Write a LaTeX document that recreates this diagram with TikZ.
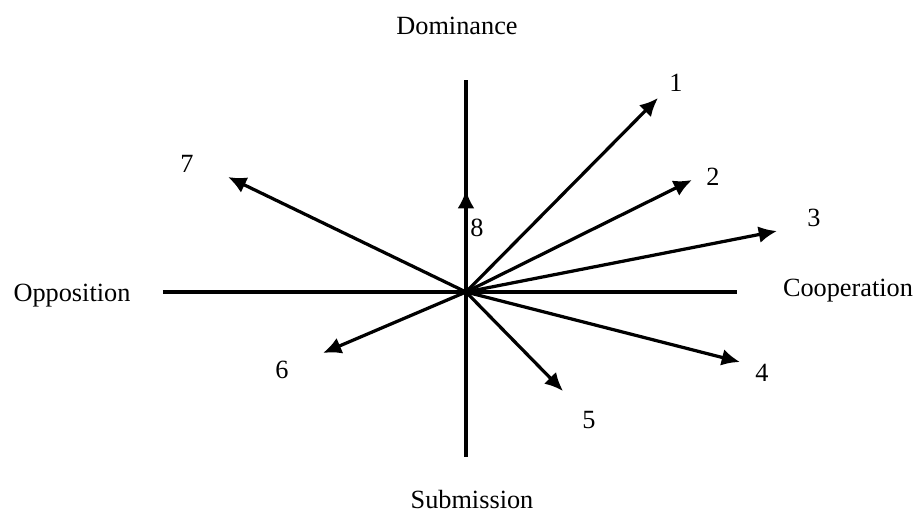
\documentclass[tikz,border=0pt]{standalone}
\usepackage{fontspec}
\setmainfont{Liberation Serif}
\usetikzlibrary{arrows.meta}

\begin{document}
\begin{tikzpicture}[>={Latex[length=13pt,width=12pt]}, line width=2.3pt,
    every node/.style={font=\fontsize{18.7}{22}\selectfont, inner sep=0pt}]
    \useasboundingbox (-11.65,-5.65) rectangle (11.4,7.3);
    \coordinate (o) at (0,0);
    \coordinate (top) at (0,5.3);
    \coordinate (bottom) at (0,-4.125);
    \coordinate (left) at (-7.575,0);
    \coordinate (right) at (6.775,0);
    \draw (top) -- (bottom);
    \draw (left) -- (right);
    \coordinate (t1) at (4.8,4.85);
    \coordinate (t2) at (5.65,2.8);
    \coordinate (t3) at (7.775,1.525);
    \coordinate (t4) at (6.85,-1.75);
    \coordinate (t5) at (2.425,-2.475);
    \coordinate (t6) at (-3.575,-1.525);
    \coordinate (t7) at (-5.95,2.875);
    \coordinate (t8) at (0,2.55);
    \draw[->] (o) -- (t1);
    \draw[->] (o) -- (t2);
    \draw[->] (o) -- (t3);
    \draw[->] (o) -- (t4);
    \draw[->] (o) -- (t5);
    \draw[->] (o) -- (t6);
    \draw[->] (o) -- (t7);
    \draw[->] (o) -- (t8);
    \node (l1) at (5.25,5.225) {1};
    \node (l2) at (6.175,2.875) {2};
    \node (l3) at (8.7,1.85) {3};
    \node (l4) at (7.4,-2.025) {4};
    \node (l5) at (3.075,-3.2) {5};
    \node (l6) at (-4.6,-1.95) {6};
    \node (l7) at (-6.975,3.2) {7};
    \node (l8) at (0.275,1.6) {8};
    \node (dom) at (-0.225,6.65) {Dominance};
    \node (sub) at (0.15,-5.2) {Submission};
    \node (opp) at (-9.85,-0.1) {Opposition};
    \node (coop) at (9.55,0.025) {Cooperation};
  \end{tikzpicture}
\end{document}
